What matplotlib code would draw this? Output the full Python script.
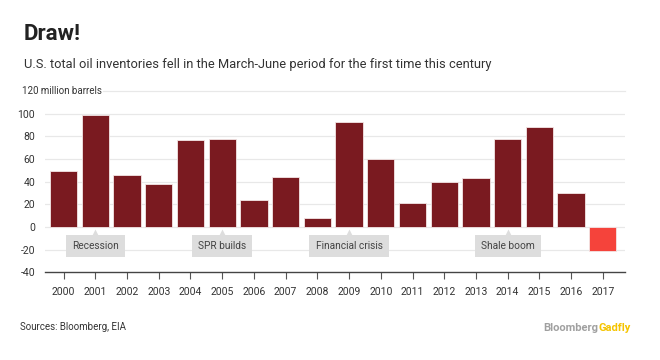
import numpy as np
import matplotlib
matplotlib.use('Agg')
import matplotlib.pyplot as plt
import matplotlib.transforms as mtransforms

plt.rcParams['font.family'] = ['Roboto', 'DejaVu Sans']

# data (million barrels, March-June change)
years = [str(y) for y in range(2000, 2018)]
values = [49, 99, 46, 38, 77, 78, 24, 44, 8, 93, 60, 21, 40, 43, 78, 88, 30, -21]
events = ['Recession', 'SPR builds', 'Financial crisis', 'Shale boom']
event_years = ['2001', '2005', '2009', '2014']
yticks = [-40, -20, 0, 20, 40, 60, 80, 100]

dark_red = '#7a1a20'
bright_red = '#f5433b'
grid_col = '#e8e8e8'
box_col = '#dddddd'
text_col = '#333333'

fig = plt.figure(figsize=(6.6, 3.6), dpi=100)
ax = fig.add_axes([0.068, 0.244, 0.879, 0.503])

x = np.arange(len(years))
colors = [dark_red] * (len(years) - 1) + [bright_red]
ax.bar(x, values, width=0.86, color=colors, edgecolor='#f3e6e6', linewidth=0.6, zorder=3)

ax.set_xlim(-0.59, 17.7)
ax.set_ylim(-40, 120)
ax.set_yticks(yticks)
ax.set_yticklabels([str(t) for t in yticks], fontsize=7.5, color=text_col)
ax.set_xticks(x)
ax.set_xticklabels(years, fontsize=7.5, color=text_col)
ax.tick_params(axis='y', length=0, pad=7)
ax.tick_params(axis='x', length=5, width=0.8, color='#555555', direction='out', pad=6)

for t in yticks[1:]:
    ax.axhline(t, color=grid_col, lw=0.9, zorder=1)
# top gridline starts after the unit label
ax.plot([1.25, 17.7], [120, 120], color=grid_col, lw=0.9, zorder=1, clip_on=False)
trans = mtransforms.blended_transform_factory(ax.transAxes, ax.transData)
ax.text(-0.040, 120, '120 million barrels', transform=trans, fontsize=7,
        color=text_col, ha='left', va='center')

for s in ['top', 'right', 'left']:
    ax.spines[s].set_visible(False)
ax.spines['bottom'].set_color('#444444')
ax.spines['bottom'].set_linewidth(1.0)

for label, yr in zip(events, event_years):
    i = years.index(yr)
    ax.text(i, -17, label, ha='center', va='center', fontsize=7.3, color='#444444', zorder=5,
            bbox=dict(boxstyle='square,pad=0.6', fc=box_col, ec='none'))
    ax.plot(i, -5.8, marker='^', markersize=6, color=box_col, mec='none', zorder=5)

fig.text(0.036, 0.905, 'Draw!', fontsize=16, fontweight='bold', color='#222222', va='center')
fig.text(0.036, 0.822, 'U.S. total oil inventories fell in the March-June period for the first time this century',
         fontsize=9.3, color='#333333', va='center')
fig.text(0.03, 0.092, 'Sources: Bloomberg, EIA', fontsize=7, color='#333333', va='center')
fig.text(0.907, 0.088, 'Bloomberg', fontsize=8, fontweight='bold', color='#a0a0a0',
         va='center', ha='right')
fig.text(0.907, 0.088, 'Gadfly', fontsize=8, fontweight='bold', color='#f5c400',
         va='center', ha='left')

fig.savefig('out.png', dpi=100)
